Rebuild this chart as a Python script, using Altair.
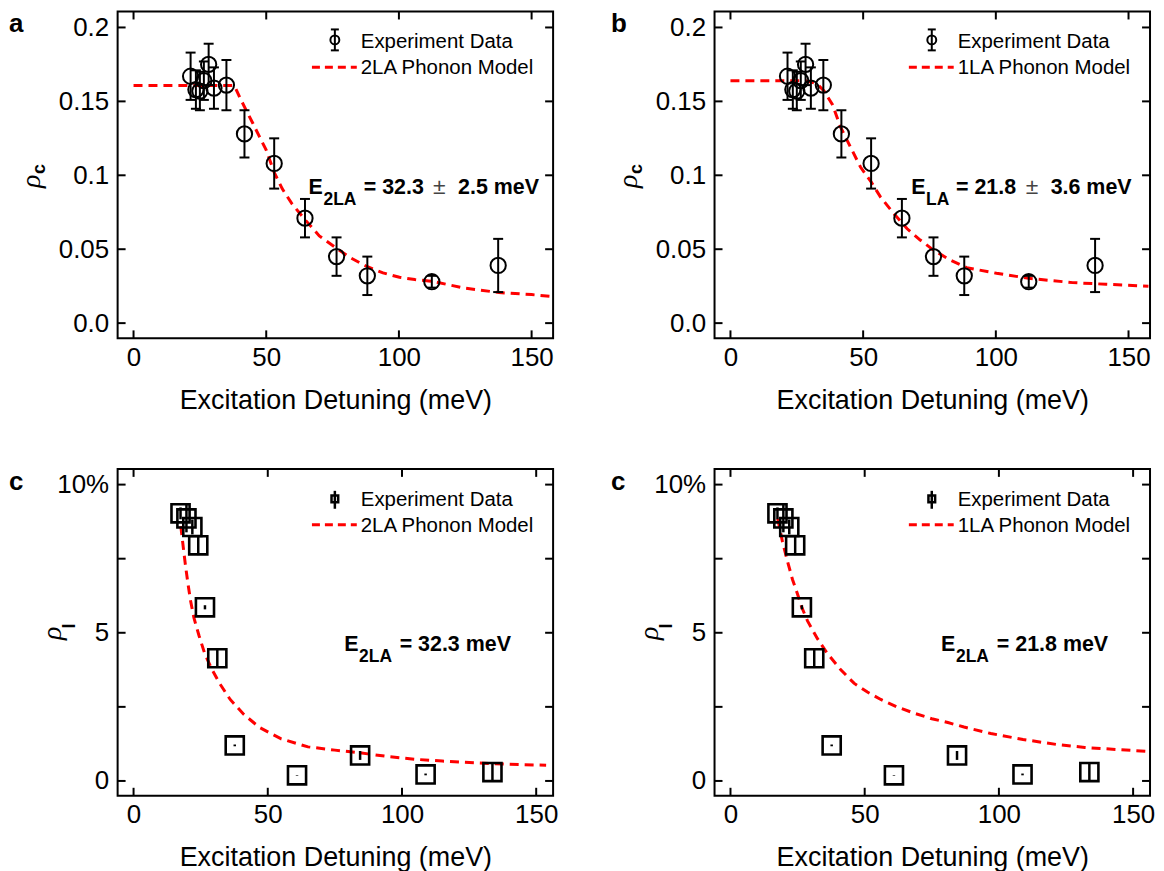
import altair as alt
import pandas as pd

FONT = "Liberation Sans"
W, H = 437, 328
TK = 8
RED = "#ff0000"

# ---------------- data ----------------
# panels a & b : rho_c vs excitation detuning
det_c = [21.5, 23.5, 25.0, 26.5, 28.3, 30.3, 35.0, 41.8, 53.0, 64.6, 76.5, 88.1, 112.4, 137.4]
rho_c = [0.167, 0.158, 0.157, 0.164, 0.175, 0.159, 0.161, 0.128, 0.108, 0.071, 0.045, 0.032, 0.028, 0.039]
rho_c_err = [0.016, 0.013, 0.013, 0.013, 0.014, 0.014, 0.017, 0.016, 0.017, 0.013, 0.013, 0.013, 0.004, 0.018]

fit_a_x = [0, 38, 40, 42.5, 45, 47.5, 50, 53, 56, 59.6, 64.6, 70, 76.5, 82, 87.7, 94, 100.2, 106, 112.5, 125, 137.7, 150, 158]
fit_a_y = [0.1607, 0.1607, 0.1528, 0.1438, 0.135, 0.126, 0.117, 0.102, 0.091, 0.081, 0.070, 0.059, 0.0506,
           0.044, 0.0385, 0.034, 0.031, 0.0295, 0.0283, 0.0236, 0.0207, 0.0193, 0.018]

fit_b_x = [0, 28, 30, 32.75, 35.25, 38.4, 41.5, 45.25, 49, 53, 56.5, 61.5, 66.5, 71.5, 76.5, 82.75, 89,
           100.25, 112.4, 129, 141.5, 155.25, 157.5]
fit_b_y = [0.164, 0.164, 0.1633, 0.1618, 0.157, 0.148, 0.1326, 0.119, 0.1056, 0.0955, 0.0854, 0.0742, 0.064,
           0.0562, 0.0494, 0.0427, 0.0375, 0.0337, 0.0303, 0.0274, 0.0263, 0.0252, 0.025]

# panels c & d : rho_l vs excitation detuning
det_l = [17.5, 19.7, 21.9, 24.1, 26.6, 31.2, 37.7, 60.9, 84.4, 108.8, 133.7]
rho_l = [9.03, 8.86, 8.57, 7.95, 5.86, 4.14, 1.20, 0.19, 0.86, 0.22, 0.30]
rho_l_err = [0.20, 0.47, 0.25, 0.33, 0.07, 0.33, 0.03, 0.01, 0.15, 0.03, 0.33]

fit_c_x = [17.6, 18.5, 19.3, 20.2, 21.2, 22.5, 24.4, 26.5, 29, 32, 36, 41, 47, 55, 65, 75, 85, 95, 105,
           115, 127.7, 140, 153.7]
fit_c_y = [8.6, 7.9, 7.3, 6.7, 6.1, 5.5, 4.9, 4.3, 3.8, 3.3, 2.75, 2.25, 1.8, 1.42, 1.15, 1.04, 0.94, 0.82,
           0.73, 0.67, 0.61, 0.56, 0.53]

fit_d_x = [17.6, 19.4, 21.3, 23.1, 25.0, 26.6, 28.7, 32.4, 36.1, 41.1, 46, 51, 56, 62, 68, 75, 81, 87, 97,
           109, 121.5, 132, 144, 155]
fit_d_y = [8.85, 8.06, 7.39, 6.8, 6.3, 5.85, 5.4, 4.8, 4.3, 3.75, 3.3, 3.0, 2.75, 2.5, 2.3, 2.1, 1.97, 1.82,
           1.6, 1.4, 1.23, 1.13, 1.06, 1.0]

x_ticks = [0, 50, 100, 150]
yc_ticks = [0, 0.05, 0.1, 0.15, 0.2]
yc_labels = ["0.0", "0.05", "0.1", "0.15", "0.2"]
yl_ticks = [0, 2.5, 5, 7.5, 10]
yl_label_vals = [0, 5, 10]
yl_labels = ["0", "5", "10%"]

x_title = "Excitation Detuning (meV)"
leg_data = "Experiment Data"


def label_expr(vals, labs):
    return ("[" + ",".join("'" + l + "'" for l in labs) + "][indexof(["
            + ",".join(repr(v) for v in vals) + "], datum.value)]")


def text(s, x, y, size, weight="normal", style="normal", angle=0, align="left",
         color="black", font=FONT):
    kw = dict(align=align, baseline="alphabetic", fontSize=size, fontWeight=weight,
              fontStyle=style, font=font, color=color)
    if angle:
        kw["angle"] = angle
    return alt.Chart(pd.DataFrame({"t": [s]})).mark_text(**kw).encode(
        x=alt.value(x), y=alt.value(y), text="t:N")


def seg(x1, x2, y1, y2, color="black", width=2, dash=None):
    kw = dict(color=color, strokeWidth=width)
    if dash:
        kw["strokeDash"] = dash
    return alt.Chart(pd.DataFrame({"t": [0]})).mark_rule(**kw).encode(
        x=alt.value(x1), x2=alt.value(x2), y=alt.value(y1), y2=alt.value(y2))


def sym(shape, x, y, size, width):
    return alt.Chart(pd.DataFrame({"t": [0]})).mark_point(
        shape=shape, filled=False, size=size, strokeWidth=width, color="black", opacity=1
    ).encode(x=alt.value(x), y=alt.value(y))


def panel(xdom, ydom, yvals, ylabs, ytick_all, fx, fy, px, py, perr, kind, model,
          ann, letter, letter_x, ysub, ytitle_pos):
    xs = alt.Scale(domain=xdom, nice=False, zero=False)
    ys = alt.Scale(domain=ydom, nice=False, zero=False)
    xaxis = alt.Axis(values=x_ticks, title=x_title, ticks=False, tickSize=0, domain=False,
                     grid=False, labelPadding=6, titlePadding=17, labelFontSize=26,
                     titleFontSize=27, labelFont=FONT, titleFont=FONT, labelColor="black",
                     titleColor="black", titleFontWeight="normal", labelFlush=False,
                     labelOverlap=False)
    yaxis = alt.Axis(values=yvals, labelExpr=label_expr(yvals, ylabs), title="", ticks=False,
                     tickSize=0, domain=False, grid=False, labelPadding=9, labelFontSize=26,
                     labelFont=FONT, labelColor="black", labelFlush=False, labelOverlap=False)

    def X(f):
        return alt.X(f + ":Q", scale=xs, axis=xaxis)

    def Y(f):
        return alt.Y(f + ":Q", scale=ys, axis=yaxis)

    fit_df = pd.DataFrame({"x": fx, "y": fy})
    pts = pd.DataFrame({"x": px, "y": py,
                        "lo": [v - e for v, e in zip(py, perr)],
                        "hi": [v + e for v, e in zip(py, perr)]})

    layers = []
    layers.append(alt.Chart(fit_df).mark_line(color=RED, strokeWidth=3, strokeDash=[9, 6]).encode(
        x=X("x"), y=Y("y")))
    if kind == "circle":
        layers.append(alt.Chart(pts).mark_rule(color="black", strokeWidth=2).encode(
            x=X("x"), y=Y("lo"), y2="hi:Q"))
        for f in ["lo", "hi"]:
            layers.append(alt.Chart(pts).mark_tick(orient="horizontal", size=10, thickness=2,
                                                   color="black", opacity=1).encode(
                x=X("x"), y=Y(f)))
        layers.append(alt.Chart(pts).mark_point(shape="circle", filled=False, size=235,
                                                strokeWidth=2, color="black", opacity=1).encode(
            x=X("x"), y=Y("y")))
    else:
        layers.append(alt.Chart(pts).mark_rule(color="black", strokeWidth=2.5).encode(
            x=X("x"), y=Y("lo"), y2="hi:Q"))
        layers.append(alt.Chart(pts).mark_point(shape="square", filled=False, size=330,
                                                strokeWidth=2.6, color="black", opacity=1).encode(
            x=X("x"), y=Y("y")))

    # inward ticks on all four sides
    xt = alt.Chart(pd.DataFrame({"v": x_ticks})).mark_rule(color="black", strokeWidth=2)
    yt = alt.Chart(pd.DataFrame({"v": ytick_all})).mark_rule(color="black", strokeWidth=2)
    layers += [
        xt.encode(x=X("v"), y=alt.value(H), y2=alt.value(H - TK)),
        xt.encode(x=X("v"), y=alt.value(0), y2=alt.value(TK)),
        yt.encode(y=Y("v"), x=alt.value(0), x2=alt.value(TK)),
        yt.encode(y=Y("v"), x=alt.value(W), x2=alt.value(W - TK)),
    ]

    # legend
    if kind == "circle":
        layers += [seg(218, 218, 18, 39), seg(214, 222, 18, 18), seg(214, 222, 39, 39),
                   sym("circle", 218, 28.5, 80, 2)]
    else:
        layers += [seg(218, 218, 22, 40, width=2.5), sym("square", 218, 30, 45, 2.5)]
    layers += [seg(195, 240, 56, 56, color=RED, width=3, dash=[8, 5]),
               text(leg_data, 244, 37, 20.5), text(model, 244, 63, 20.5)]

    # annotation pieces: (string, x, y, size, weight, color)
    for s, x, y, size, weight, color in ann:
        layers.append(text(s, x, y, size, weight=weight, color=color))

    # panel letter
    layers.append(text(letter, letter_x, 21, 26, weight="bold"))

    # y title: rho with subscript
    (rx, ry), (sx, sy) = ytitle_pos
    layers.append(text("ρ", rx, ry, 28, style="italic", angle=270, align="center",
                       font="Liberation Serif"))
    layers.append(text(ysub, sx, sy, 18, weight="bold", angle=270, align="center"))

    return alt.layer(*layers).properties(width=W, height=H)


ann_a = [("E", 191.6, 183, 21.5, "bold", "black"), ("2LA", 206.6, 194, 17.5, "bold", "black"),
         ("= 32.3", 247, 183, 21.5, "bold", "black"), ("±", 316.6, 183, 23, "normal", "#444444"),
         ("2.5 meV", 341.6, 183, 21.5, "bold", "black")]
ann_b = [("E", 197.3, 183, 21.5, "bold", "black"), ("LA", 212.3, 194, 17.5, "bold", "black"),
         ("= 21.8", 242.3, 183, 21.5, "bold", "black"), ("±", 312.3, 183, 23, "normal", "#444444"),
         ("3.6 meV", 337.3, 183, 21.5, "bold", "black")]
ann_c = [("E", 227.3, 183, 21.5, "bold", "black"), ("2LA", 242.3, 194, 17.5, "bold", "black"),
         ("= 32.3 meV", 283, 183, 21.5, "bold", "black")]
ann_d = [("E", 227.3, 183, 21.5, "bold", "black"), ("2LA", 242.3, 194, 17.5, "bold", "black"),
         ("= 21.8 meV", 283.3, 183, 21.5, "bold", "black")]

xdom_top = [-6.0, 158.1]
ydom_top = [-0.0103, 0.2108]
xdom_bot = [-5.94, 156.3]
ydom_bot = [-0.5, 10.53]

pos_c = ((-78, 170.5), (-73, 158))
pos_l = ((-57, 165), (-43, 157.7))

pa = panel(xdom_top, ydom_top, yc_ticks, yc_labels, yc_ticks, fit_a_x, fit_a_y, det_c, rho_c,
           rho_c_err, "circle", "2LA Phonon Model", ann_a, "a", -109, "c", pos_c)
pb = panel(xdom_top, ydom_top, yc_ticks, yc_labels, yc_ticks, fit_b_x, fit_b_y, det_c, rho_c,
           rho_c_err, "circle", "1LA Phonon Model", ann_b, "b", -104, "c", pos_c)
pc = panel(xdom_bot, ydom_bot, yl_label_vals, yl_labels, yl_ticks, fit_c_x, fit_c_y, det_l, rho_l,
           rho_l_err, "square", "2LA Phonon Model", ann_c, "c", -109, "l", pos_l)
pd_ = panel(xdom_bot, ydom_bot, yl_label_vals, yl_labels, yl_ticks, fit_d_x, fit_d_y, det_l, rho_l,
            rho_l_err, "square", "1LA Phonon Model", ann_d, "c", -104, "l", pos_l)

chart = alt.concat(pa, pb, pc, pd_, columns=2, spacing={"row": 131, "column": 162},
                   bounds="flush").properties(padding=0).configure(font=FONT).configure_view(
    stroke="black", strokeWidth=2)

chart.save("out.html", embed_options={"renderer": "svg", "actions": False})
